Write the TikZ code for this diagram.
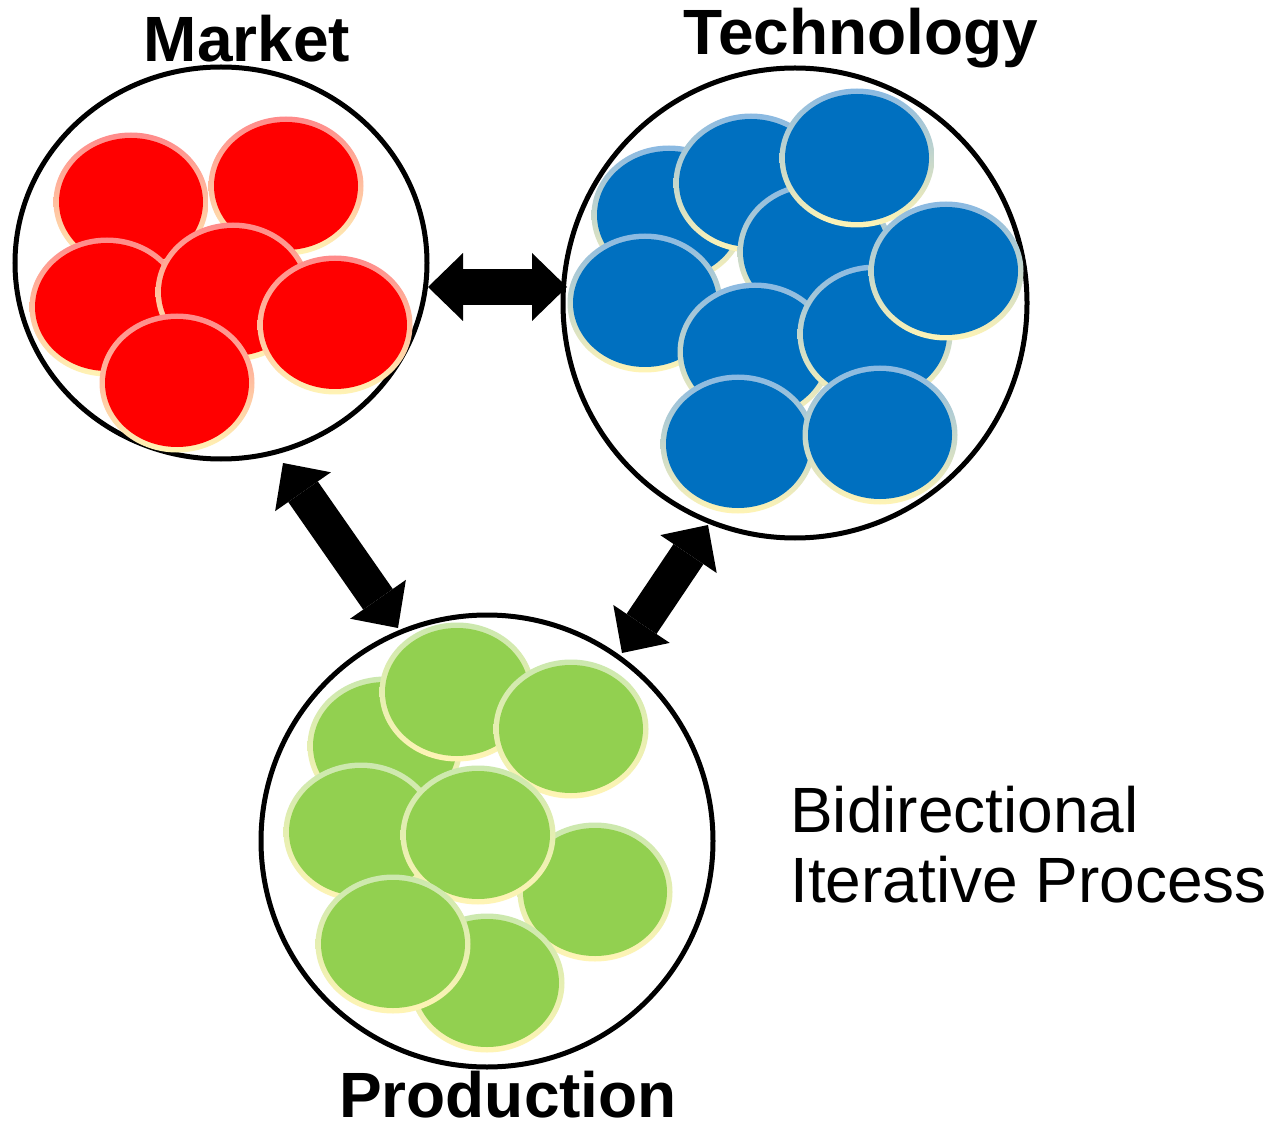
\documentclass[tikz,border=0pt]{standalone}
\usepackage{fontspec}
\setmainfont{Liberation Sans}
\usetikzlibrary{arrows.meta,shapes.geometric}
\definecolor{mred}{HTML}{FF0000}
\definecolor{mredrim}{HTML}{FF8A8A}
\definecolor{mblue}{HTML}{0070C0}
\definecolor{mbluerim}{HTML}{8AB9E2}
\definecolor{mgreen}{HTML}{92D050}
\definecolor{mgreenrim}{HTML}{CBE8AE}
\definecolor{mcream}{HTML}{FFF4B5}
\newcommand\myblob[3]{%
  \shade[shading angle=45, top color=#2, middle color=#3, bottom color=mcream]
    (#1) ellipse [x radius=77.5pt, y radius=69.5pt];
  \fill[#3] (#1) ellipse [x radius=72pt, y radius=64pt];
}
\tikzset{
  bigcircle/.style={draw=black, line width=5pt, ellipse, inner sep=0pt, outer sep=0pt},
  bigarrow/.style={line width=36pt,
    {Triangle[length=35pt,width=68pt,line width=0pt]}-{Triangle[length=35pt,width=68pt,line width=0pt]}},
  boldlabel/.style={font=\fontsize{64}{70}\selectfont\bfseries, anchor=base, inner sep=0pt},
  plainlabel/.style={font=\fontsize{64}{70}\selectfont, anchor=base west, inner sep=0pt}
}
\begin{document}
\begin{tikzpicture}[x=1pt,y=-1pt]
\useasboundingbox[fill=white] (0,0) rectangle (1280,1131);
% big circles
\node[bigcircle, minimum width=412pt, minimum height=392pt] (market) at (221,263) {};
\node[bigcircle, minimum width=464pt, minimum height=470pt] (tech) at (795,303) {};
\node[bigcircle, minimum width=452pt, minimum height=452pt] (prod) at (487,841) {};
% red blobs
\myblob{131,202}{mredrim}{mred}
\myblob{286,186}{mredrim}{mred}
\myblob{107,307}{mredrim}{mred}
\myblob{233,292}{mredrim}{mred}
\myblob{335,325}{mredrim}{mred}
\myblob{177,383}{mredrim}{mred}
% blue blobs
\myblob{669,215}{mbluerim}{mblue}
\myblob{751,183}{mbluerim}{mblue}
\myblob{815,252}{mbluerim}{mblue}
\myblob{857,158}{mbluerim}{mblue}
\myblob{645,303}{mbluerim}{mblue}
\myblob{755,352}{mbluerim}{mblue}
\myblob{875,334}{mbluerim}{mblue}
\myblob{946,271}{mbluerim}{mblue}
\myblob{738,444}{mbluerim}{mblue}
\myblob{880,435}{mbluerim}{mblue}
% green blobs
\myblob{385,746}{mgreenrim}{mgreen}
\myblob{457,692}{mgreenrim}{mgreen}
\myblob{571,729}{mgreenrim}{mgreen}
\myblob{361,832}{mgreenrim}{mgreen}
\myblob{595,892}{mgreenrim}{mgreen}
\myblob{487,983}{mgreenrim}{mgreen}
\myblob{478,835}{mgreenrim}{mgreen}
\myblob{393,944}{mgreenrim}{mgreen}
% arrow end points
\coordinate (mt1) at (428,287);
\coordinate (mt2) at (567,287);
\coordinate (mp1) at (283,463);
\coordinate (mp2) at (398,628);
\coordinate (tp1) at (708,525);
\coordinate (tp2) at (622,653);
\draw[bigarrow] (mt1) -- (mt2);
\draw[bigarrow] (mp1) -- (mp2);
\draw[bigarrow] (tp1) -- (tp2);
% labels
\node[boldlabel] (lmarket) at (247,62) {Market};
\node[boldlabel] (ltech) at (861,55) {Technology};
\node[boldlabel] (lprod) at (508,1117) {Production};
\node[plainlabel] (lbidi) at (790,832) {Bidirectional};
\node[plainlabel] (liter) at (790,902) {Iterative Process};
\end{tikzpicture}
\end{document}
